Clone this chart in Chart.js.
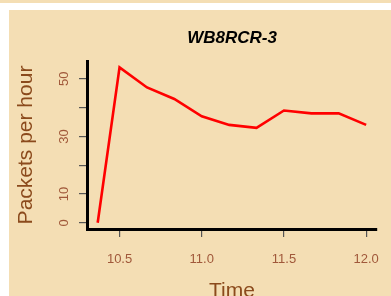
<!DOCTYPE html>
<html>
<head>
<meta charset="utf-8">
<script src="https://cdn.jsdelivr.net/npm/chart.js@4"></script>
<style>
  html, body { margin: 0; padding: 0; background: #fff; overflow: hidden; }
  #strip { position: absolute; left: 0; top: 0; width: 391px; height: 3px; background: #F4DEB4; }
  #panel { position: absolute; left: 9px; top: 10px; width: 382px; height: 286px; background: #F4DEB4; }
</style>
</head>
<body>
<div id="strip"></div>
<div id="panel"><canvas id="chart" width="382" height="286"></canvas></div>
<script>
// hours (decimal) and packets per hour
const times = [10.367, 10.5, 10.667, 10.833, 11.0, 11.167, 11.333, 11.5, 11.667, 11.833, 12.0];
const packets = [0, 54, 47, 43, 37, 34, 33, 39, 38, 38, 34];
const xTicks = [10.5, 11.0, 11.5, 12.0];
const yTicks = [0, 10, 20, 30, 40, 50];
const yLabelled = [0, 10, 30, 50];

const brown = "#8B4A1C";
const tickBrown = "#A0583A";
const sans = '"Liberation Sans", Arial, Helvetica, sans-serif';

// R-style text: title, rotated y labels, axis titles
const textPlugin = {
  id: "rtext",
  afterDraw(chart) {
    const ctx = chart.ctx;
    const xs = chart.scales.x;
    const ys = chart.scales.y;
    const area = chart.chartArea;
    ctx.save();

    ctx.fillStyle = "#000";
    ctx.font = "italic bold 17px " + sans;
    ctx.textAlign = "center";
    ctx.textBaseline = "alphabetic";
    ctx.fillText("WB8RCR-3", (area.left + area.right) / 2, 33);

    ctx.fillStyle = tickBrown;
    ctx.font = "13px " + sans;
    xTicks.forEach(v => {
      ctx.fillText(v.toFixed(1), xs.getPixelForValue(v), 253);
    });
    yLabelled.forEach(v => {
      ctx.save();
      ctx.translate(59, ys.getPixelForValue(v));
      ctx.rotate(-Math.PI / 2);
      ctx.fillText(String(v), 0, 0);
      ctx.restore();
    });

    ctx.fillStyle = brown;
    ctx.font = "21px " + sans;
    ctx.fillText("Time", (area.left + area.right) / 2, 287);
    ctx.save();
    ctx.translate(23, (area.top + area.bottom) / 2);
    ctx.rotate(-Math.PI / 2);
    ctx.fillText("Packets per hour", 0, 0);
    ctx.restore();

    ctx.restore();
  }
};

new Chart(document.getElementById("chart"), {
  type: "line",
  data: {
    datasets: [{
      data: times.map((t, i) => ({ x: t, y: packets[i] })),
      borderColor: "#FF0000",
      borderWidth: 2.6,
      pointRadius: 0,
      tension: 0,
      fill: false
    }]
  },
  options: {
    responsive: false,
    animation: false,
    layout: { padding: { left: 0, right: 14, top: 51, bottom: 0 } },
    plugins: { legend: { display: false }, tooltip: { enabled: false } },
    scales: {
      x: {
        type: "linear",
        min: 10.302,
        max: 12.066,
        afterBuildTicks: s => { s.ticks = xTicks.map(v => ({ value: v })); },
        afterFit: s => { s.height = 67; },
        ticks: { display: false },
        grid: { drawOnChartArea: false, drawTicks: true, tickLength: 8, color: "#555", lineWidth: 1.2 },
        border: { color: "#000", width: 3 }
      },
      y: {
        type: "linear",
        min: -2.16,
        max: 56.2,
        afterBuildTicks: s => { s.ticks = yTicks.map(v => ({ value: v })); },
        afterFit: s => { s.width = 78; },
        ticks: { display: false },
        grid: { drawOnChartArea: false, drawTicks: true, tickLength: 8, color: "#555", lineWidth: 1.2 },
        border: { color: "#000", width: 3 }
      }
    }
  },
  plugins: [textPlugin]
});
</script>
</body>
</html>
